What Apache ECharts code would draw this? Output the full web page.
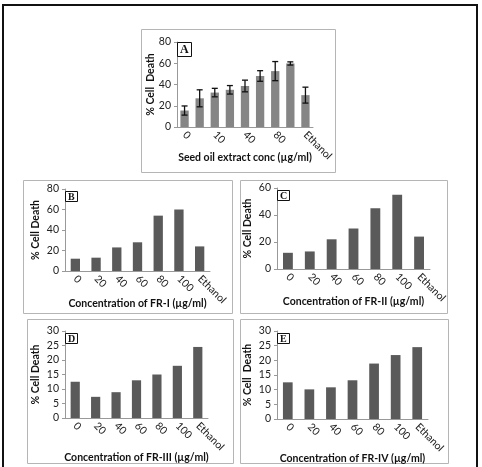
<!DOCTYPE html>
<html>
<head>
<meta charset="utf-8">
<script src="https://cdn.jsdelivr.net/npm/echarts@6/dist/echarts.min.js"></script>
<style>
  html, body { margin: 0; padding: 0; background: #fff; }
  #main { width: 482px; height: 467px; }
</style>
</head>
<body>
<div id="main"></div>
<script>
// panel A: seed oil extract, with error bars
const catsA = ['0', '5', '10', '20', '40', '60', '80', '100', 'Ethanol']
const valsA = [15.5, 27, 32.4, 35, 38.6, 48, 52.6, 59.8, 30]
const errA = [4.3, 8, 4, 4, 5.5, 5, 9, 1.5, 7.5]
// panels B-E: fractions
const catsFR = ['0', '20', '40', '60', '80', '100', 'Ethanol']
const valsB = [12, 13, 23, 28, 54, 60, 24]
const valsC = [12, 13, 22, 30, 45, 55, 24]
const valsD = [12.5, 7.3, 8.9, 13, 15, 18, 24.5]
const valsE = [12.5, 10.1, 10.8, 13.2, 18.9, 21.8, 24.5]

const font = 'Lato'
const axisGray = '#999'

// grid layout per panel
const grids = [
  { left: 177, top: 42, width: 136, height: 85 },
  { left: 65, top: 189, width: 145, height: 82 },
  { left: 277, top: 188, width: 153, height: 81 },
  { left: 65, top: 331, width: 143, height: 87 },
  { left: 277, top: 331, width: 151, height: 88 }
]
const xNames = [
  'Seed oil extract conc (µg/ml)',
  'Concentration of FR-I (µg/ml)',
  'Concentration of FR-II (µg/ml)',
  'Concentration of FR-III (µg/ml)',
  'Concentration of FR-IV (µg/ml)'
]
const yNames = ['% Cell  Death', '% Cell Death', '% Cell Death', '% Cell Death', '% Cell  Death']
const yMax = [80, 80, 60, 30, 30]
const yStep = [20, 20, 20, 5, 5]
const letters = ['A', 'B', 'C', 'D', 'E']
const boxes = [
  [141, 29, 194, 143],
  [23, 180, 209, 133],
  [240, 180, 207, 133],
  [27, 319, 206, 144],
  [240, 319, 208, 144]
]

const xAxes = grids.map((g, i) => ({
  type: 'category',
  gridIndex: i,
  data: i == 0 ? catsA : catsFR,
  name: xNames[i],
  nameLocation: 'middle',
  nameMoveOverlap: false,
  nameGap: i == 0 ? 25 : (i >= 3 ? 34 : 27),
  nameTextStyle: { fontFamily: font, fontWeight: 'bold', fontSize: 10.5, color: '#111' },
  axisLine: { lineStyle: { color: axisGray } },
  axisTick: { show: false },
  axisLabel: {
    interval: i == 0 ? 1 : 0,
    rotate: -45,
    margin: 6,
    fontFamily: font,
    fontSize: 10.5,
    color: '#222'
  }
}))

const yAxes = grids.map((g, i) => ({
  type: 'value',
  gridIndex: i,
  min: 0,
  max: yMax[i],
  interval: yStep[i],
  name: yNames[i],
  nameLocation: 'middle',
  nameMoveOverlap: false,
  nameGap: i == 0 ? 21 : 24,
  nameTextStyle: { fontFamily: font, fontWeight: 'bold', fontSize: 10.5, color: '#111', whiteSpace: 'pre' },
  splitLine: { show: false },
  axisLine: { show: true, lineStyle: { color: axisGray } },
  axisTick: { show: true, length: 3, lineStyle: { color: axisGray } },
  axisLabel: { fontFamily: font, fontSize: 10.5, color: '#222', margin: 6 }
}))

const frVals = [valsB, valsC, valsD, valsE]
const series = [
  {
    type: 'bar',
    xAxisIndex: 0,
    yAxisIndex: 0,
    barWidth: '55%',
    itemStyle: { color: '#858585' },
    data: valsA
  },
  {
    type: 'custom',
    xAxisIndex: 0,
    yAxisIndex: 0,
    z: 5,
    data: valsA.map((v, i) => [i, v - errA[i], v + errA[i]]),
    renderItem: (params, api) => {
      const lo = api.coord([api.value(0), api.value(1)])
      const hi = api.coord([api.value(0), api.value(2)])
      const w = 3
      const st = { stroke: '#111', lineWidth: 1.3 }
      return {
        type: 'group',
        children: [
          { type: 'line', shape: { x1: hi[0], y1: hi[1], x2: lo[0], y2: lo[1] }, style: st },
          { type: 'line', shape: { x1: hi[0] - w, y1: hi[1], x2: hi[0] + w, y2: hi[1] }, style: st },
          { type: 'line', shape: { x1: lo[0] - w, y1: lo[1], x2: lo[0] + w, y2: lo[1] }, style: st }
        ]
      }
    }
  }
]
frVals.forEach((vals, k) => {
  series.push({
    type: 'bar',
    xAxisIndex: k + 1,
    yAxisIndex: k + 1,
    barWidth: '45%',
    itemStyle: { color: '#5a5a5a' },
    data: vals
  })
})

// letter tags
const titles = letters.map((l, i) => ({
  text: l,
  left: grids[i].left,
  top: grids[i].top + (i == 0 ? 0 : 2),
  padding: i == 0 ? [2, 3, 1, 3] : [1, 3, 0, 3],
  borderColor: '#111',
  borderWidth: 1,
  backgroundColor: '#fff',
  textStyle: { fontFamily: 'Liberation Serif', fontWeight: 'bold', fontSize: i == 0 ? 12 : 10, color: '#111' }
}))

// panel frames
const frames = boxes.map(b => ({
  type: 'rect',
  shape: { x: b[0] + 0.5, y: b[1] + 0.5, width: b[2], height: b[3] },
  style: { fill: 'none', stroke: '#b5b5b5', lineWidth: 1 },
  silent: true
}))
frames.push({
  type: 'rect',
  shape: { x: 3, y: 5, width: 474, height: 470 },
  style: { fill: 'none', stroke: '#111', lineWidth: 2 },
  silent: true
})

const chart = echarts.init(document.getElementById('main'))
chart.setOption({
  animation: false,
  title: titles,
  grid: grids,
  xAxis: xAxes,
  yAxis: yAxes,
  series: series,
  graphic: frames
})
</script>
</body>
</html>
